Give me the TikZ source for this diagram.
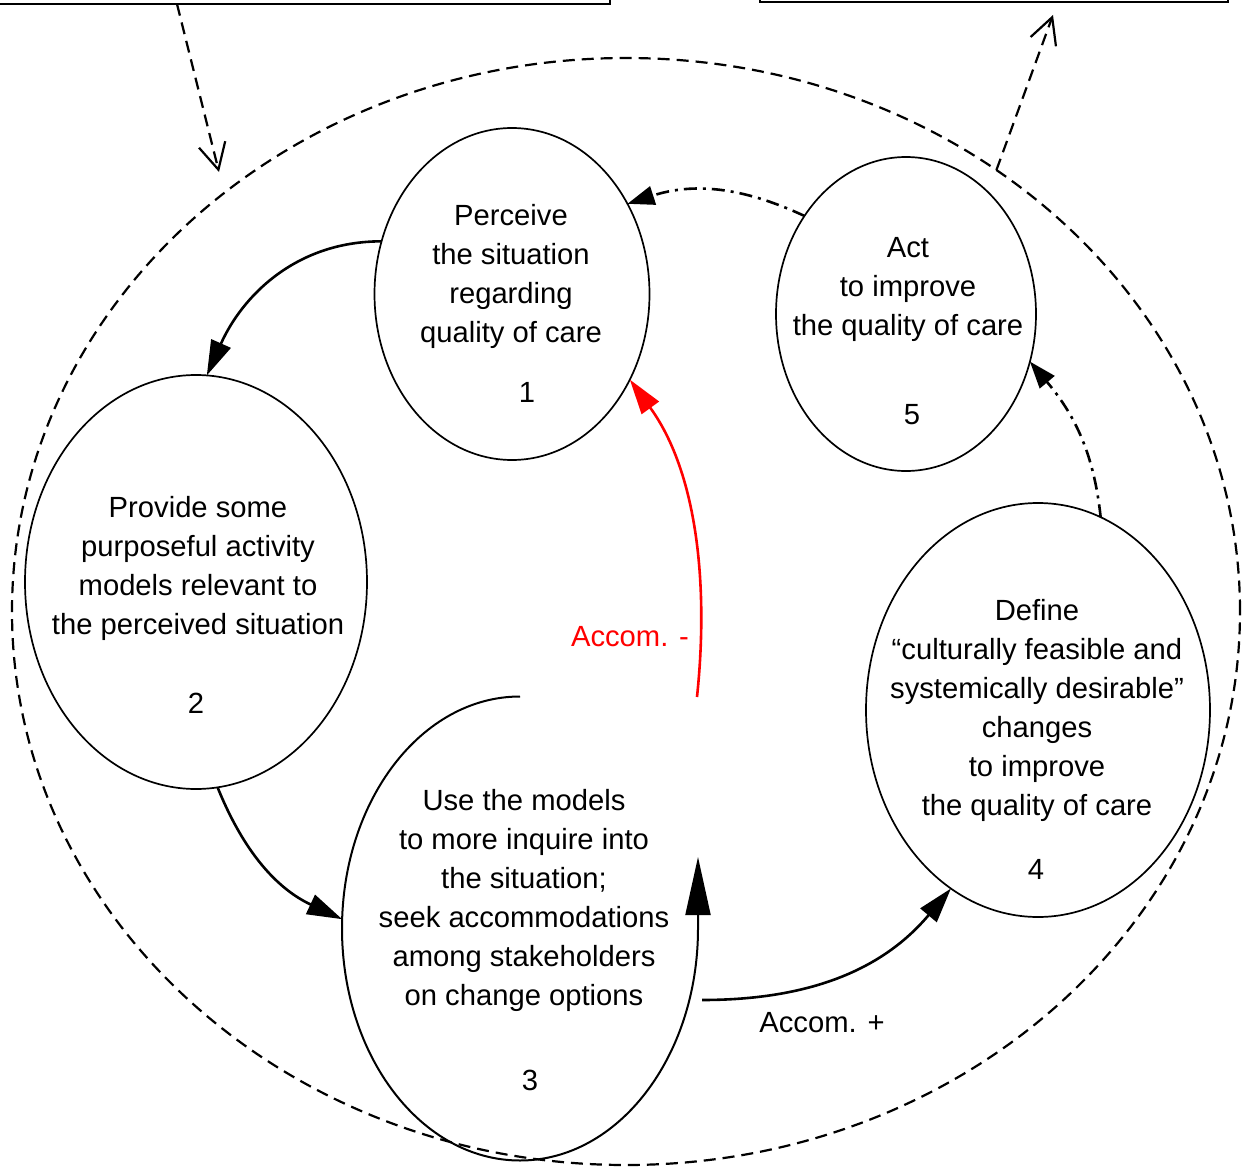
\documentclass[tikz,border=0pt]{standalone}
\usepackage{fontspec}
\setmainfont{Liberation Sans}
\usetikzlibrary{arrows.meta,shapes.geometric,positioning}

\begin{document}
\begin{tikzpicture}[x=1pt,y=1pt,line width=2.6pt,
    >={Triangle[length=35pt,width=21pt]},
    every node/.style={font=\fontsize{29.2}{39}\selectfont,inner sep=0pt,outer sep=0pt},
    phase/.style={ellipse,draw,line width=1.7pt},
    words/.style={align=center},
    frame/.style={rectangle,draw,line width=2pt,minimum height=84pt},
    cross/.style={dash pattern=on 12pt off 7pt,line width=2.2pt,-{Straight Barb[length=26pt,width=27pt]}},
    hint/.style={dash pattern=on 13pt off 6pt on 3pt off 6pt,line width=2.6pt,-{Triangle[length=27pt,width=19pt]}}]

  \useasboundingbox (0,0) rectangle (1243,-1172);
  \clip (0,0) rectangle (1243,-1172);

  % boxes outside, and the dashed boundary
  \node[frame,minimum width=630pt] (inbox) at (295,38) {};
  \node[frame,minimum width=468pt] (outbox) at (994,40) {};
  \node[ellipse,draw,dash pattern=on 12pt off 7pt,line width=2.2pt,
        minimum width=1228pt,minimum height=1107pt] (world) at (626,-611.5) {};

  % the five phases
  \node[phase,minimum width=275pt,minimum height=332pt] (s1) at (512,-294) {};
  \node[phase,minimum width=342pt,minimum height=414pt] (s2) at (196,-582) {};
  \node[ellipse,minimum width=356pt,minimum height=464pt] (s3) at (520,-928.5) {};
  \node[phase,minimum width=344pt,minimum height=414pt] (s4) at (1038,-710) {};
  \node[phase,minimum width=260pt,minimum height=314pt] (s5) at (906,-314) {};

  \node[words] (s1text) at (511,-276) {Perceive\\the situation\\regarding\\quality of care};
  \node (s1num) at (527,-392) {1};
  \node[words] (s2text) at (198,-568) {Provide some\\purposeful activity\\models relevant to\\the perceived situation};
  \node (s2num) at (196,-703) {2};
  \node[words] (s3text) at (524,-900) {Use the models\\to more inquire into\\the situation;\\seek accommodations\\among stakeholders\\on change options};
  \node (s3num) at (530,-1080) {3};
  \node[words] (s4text) at (1037,-710) {Define\\“culturally feasible and\\systemically desirable”\\changes\\to improve\\the quality of care};
  \node (s4num) at (1036,-869) {4};
  \node[words] (s5text) at (908,-289) {Act\\to improve\\the quality of care};
  \node (s5num) at (912,-415) {5};

  \node[text=red] (minuslabel) at (630,-637) {Accom. -};
  \node (pluslabel) at (822,-1023) {Accom. +};

  \coordinate (inend) at (219,-172);
  \coordinate (outend) at (1053,-15);
  \coordinate (s3end) at (698,-857);
  \coordinate (minusstart) at (697,-697);
  \coordinate (plusstart) at (702,-1000);

  % connectors
  \draw[cross] (177,0 |- inbox.south) -- (inend);
  \draw[cross] (world.50) -- (outend);

  \path[->]
    (s1.158) edge[out=180,in=66] (s2.87)
    (s2.-84) edge[out=-68,in=155] (s3.177)
    (plusstart) edge[out=0,in=-130] (s4.244)
    (minusstart) edge[red,out=84,in=-54,looseness=0.9] (s1.-36);
  \draw[-{Triangle[length=58pt,width=25pt]},line width=2pt]
    (s3.north) arc[start angle=90,end angle=360,x radius=178pt,y radius=232pt] -- (s3end);
  \path[hint]
    (s5.136) edge[out=155,in=18] (s1.38)
    (s4.72) edge[out=96,in=-50] (s5.-21);

\end{tikzpicture}
\end{document}
